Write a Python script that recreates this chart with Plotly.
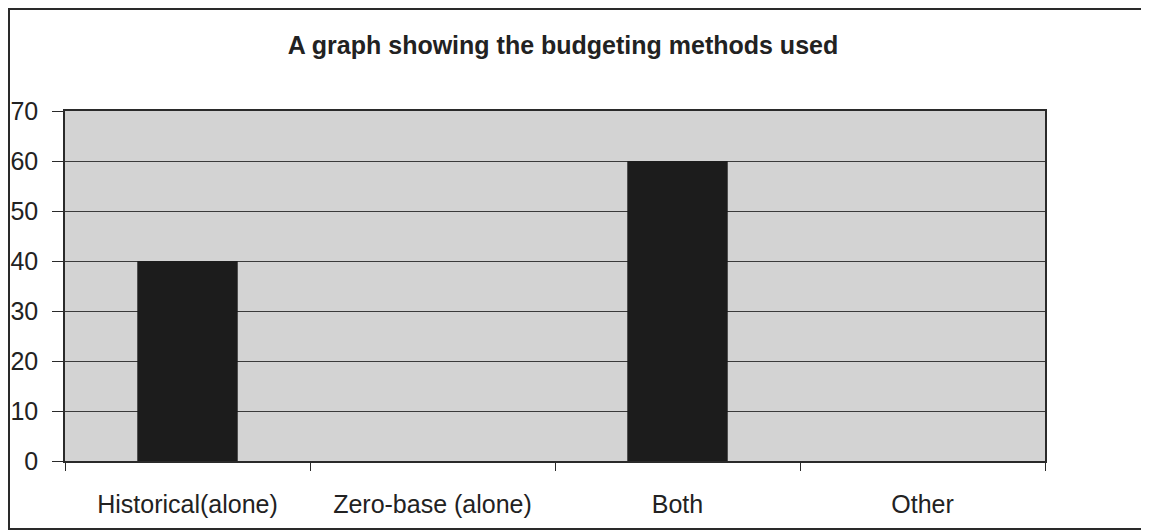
import plotly.graph_objects as go

categories = ["Historical(alone)", "Zero-base (alone)", "Both", "Other"]
values = [40, 0, 60, 0]
y_ticks = [0, 10, 20, 30, 40, 50, 60, 70]
title_text = "A graph showing the budgeting methods used"

# page has an 8px body margin; figure coordinates are page minus offset
OFF = 8
W, H = 1149 - OFF, 532 - OFF
L, R, T, B = 65 - OFF, 1149 - 1045, 111 - OFF, 532 - 461
pw, ph = W - L - R, H - T - B

fig = go.Figure(go.Bar(x=categories, y=values, marker=dict(color="#1c1c1c", line=dict(width=0))))

def px_x(p):
    return (p - OFF - L) / pw

def px_y(p):
    return (H - B - (p - OFF)) / ph

fig.add_shape(type="rect", xref="paper", yref="paper",
              x0=px_x(9), x1=px_x(1143), y0=px_y(529), y1=px_y(9),
              line=dict(color="#2a2a2a", width=2), layer="below")

fig.update_layout(
    width=W, height=H,
    margin=dict(l=L, r=R, t=T, b=B, autoexpand=False),
    paper_bgcolor="white",
    plot_bgcolor="#d3d3d3",
    bargap=0.59,
    showlegend=False,
    title=dict(text="<b>" + title_text + "</b>", x=(563 - OFF) / W, xanchor="center",
               y=1 - (45 - OFF) / H, yanchor="middle", yref="container",
               font=dict(family="Liberation Sans, Arial, sans-serif", size=25, color="#222222")),
    font=dict(family="Liberation Sans, Arial, sans-serif", size=24, color="#222222"),
)
fig.update_yaxes(range=[0, 70], tickvals=y_ticks, showgrid=True, gridcolor="#3a3a3a", gridwidth=1.4,
                 showline=True, linecolor="#2a2a2a", linewidth=1.6, mirror=True,
                 ticks="outside", ticklen=11, tickcolor="#2a2a2a", tickwidth=1.3,
                 ticklabelstandoff=9, zeroline=False, automargin=False,
                 tickfont=dict(size=25))
fig.update_xaxes(showline=True, linecolor="#2a2a2a", linewidth=1.6, mirror=True,
                 ticks="outside", tickson="boundaries", ticklen=8, tickcolor="#2a2a2a", tickwidth=1.3,
                 ticklabelstandoff=20, showgrid=False, automargin=False,
                 tickfont=dict(size=25))

fig.write_html("out.html")
